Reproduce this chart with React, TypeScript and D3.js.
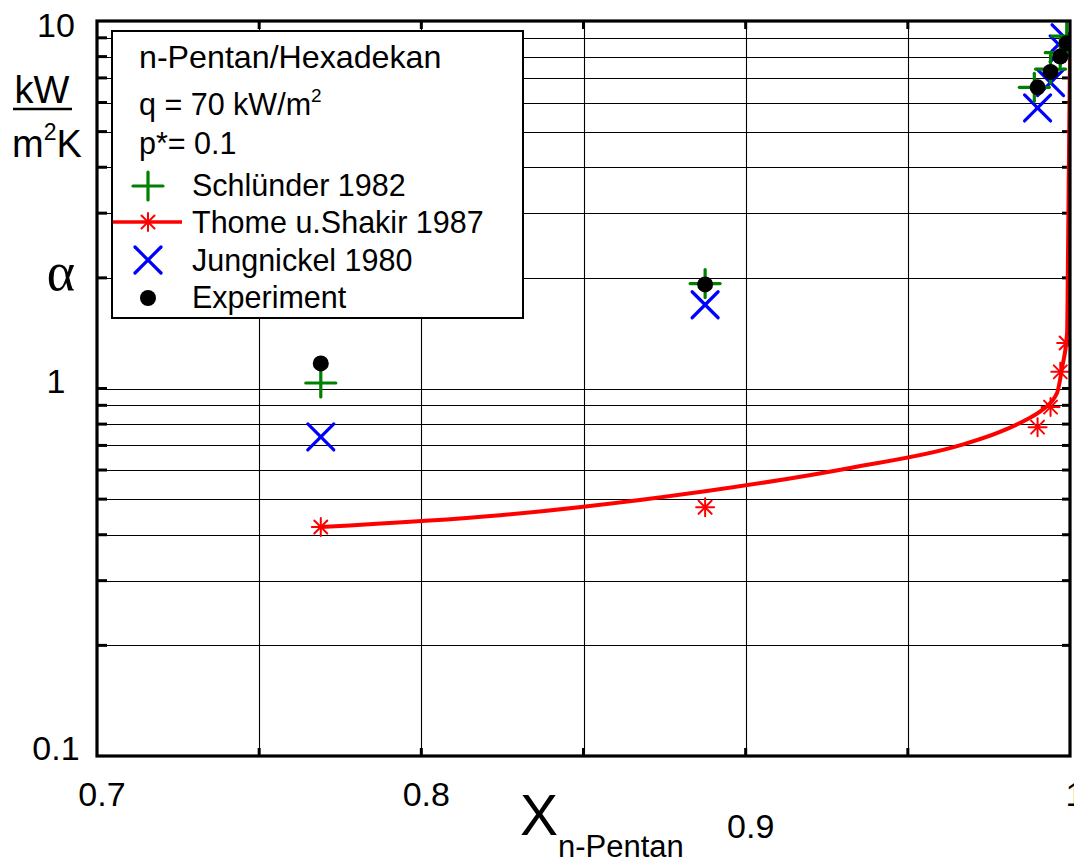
import React from 'react';
import * as d3 from 'd3';

const xTickValues = [0.7, 0.8, 0.9, 1.0];
const xTickLabels = ['0.7', '0.8', '0.9', '1'];
const xGridValues = [0.75, 0.8, 0.85, 0.9, 0.95];
const yTickValues = [0.1, 1, 10];
const yTickLabels = ['0.1', '1', '10'];
const yGridValues = [0.2, 0.3, 0.4, 0.5, 0.6, 0.7, 0.8, 0.9, 1, 2, 3, 4, 5, 6, 7, 8, 9];

const schluender: [number, number][] = [
  [0.769, 1.035], [0.8875, 1.93], [0.989, 6.6], [0.994, 7.4], [0.997, 8.2], [0.999, 9.1],
];
const jungnickel: [number, number][] = [
  [0.769, 0.738], [0.8875, 1.69], [0.99, 5.8], [0.994, 6.8], [0.9979, 8.4], [0.9985, 9.0],
];
const experiment: [number, number][] = [
  [0.769, 1.17], [0.8875, 1.92], [0.99, 6.6], [0.994, 7.27], [0.997, 8.0], [0.999, 8.7],
];
const thomeMarkers: [number, number][] = [
  [0.769, 0.42], [0.8875, 0.475], [0.99, 0.785], [0.994, 0.89], [0.997, 1.11], [0.9988, 1.33],
];
const thomeCurve: [number, number][] = [
  [0.769, 0.42], [0.8243, 0.452], [0.8875, 0.525], [0.9322, 0.608], [0.966, 0.70],
  [0.9784, 0.762], [0.9868, 0.825], [0.9914, 0.874], [0.996, 0.972], [0.9976, 1.144],
  [0.9991, 1.416], [0.9994, 2.38], [0.9997, 4.46], [1.0, 8.1],
];

const legendTitle = 'n-Pentan/Hexadekan';

const L = 97, R = 1070, T = 21, B = 756;
const FONT = 'Liberation Sans, Arial, Helvetica, sans-serif';

export default function App() {
  const x = d3.scaleLinear().domain([0.7, 1.0]).range([L, R]);
  const y = d3.scaleLog().domain([0.1, 10]).range([B, T]);
  const line = d3.line<[number, number]>()
    .x(d => x(d[0]))
    .y(d => y(d[1]))
    .curve(d3.curveMonotoneX);

  const plus = (cx: number, cy: number, k: string) => (
    <g key={k} stroke="#008000" strokeWidth={3.2} strokeLinecap="round">
      <line x1={cx - 15} y1={cy} x2={cx + 15} y2={cy} />
      <line x1={cx} y1={cy - 14} x2={cx} y2={cy + 14} />
    </g>
  );
  const cross = (cx: number, cy: number, k: string) => (
    <g key={k} stroke="#0000ff" strokeWidth={3.2} strokeLinecap="round">
      <line x1={cx - 13} y1={cy - 13} x2={cx + 13} y2={cy + 13} />
      <line x1={cx - 13} y1={cy + 13} x2={cx + 13} y2={cy - 13} />
    </g>
  );
  const star = (cx: number, cy: number, k: string) => (
    <g key={k} stroke="#ff0000" strokeWidth={2} strokeLinecap="round">
      <line x1={cx - 9} y1={cy} x2={cx + 9} y2={cy} />
      <line x1={cx} y1={cy - 9} x2={cx} y2={cy + 9} />
      <line x1={cx - 6.5} y1={cy - 6.5} x2={cx + 6.5} y2={cy + 6.5} />
      <line x1={cx - 6.5} y1={cy + 6.5} x2={cx + 6.5} y2={cy - 6.5} />
    </g>
  );

  const legendItems = [
    { label: 'Schlünder 1982', y: 196 },
    { label: 'Thome u.Shakir 1987', y: 233 },
    { label: 'Jungnickel 1980', y: 271 },
    { label: 'Experiment', y: 308 },
  ];

  return (
    <svg width={1074} height={861} style={{ position: 'absolute', left: 0, top: 0, background: '#fff' }}
      fontFamily={FONT}>
      <defs>
        <clipPath id="plotclip">
          <rect x={L} y={T} width={R - L} height={B - T} />
        </clipPath>
      </defs>
      <rect x={0} y={0} width={1074} height={861} fill="#fff" />
      {/* grid */}
      <g stroke="#000" strokeWidth={1.1}>
        {yGridValues.map(v => (
          <line key={'hg' + v} x1={L} x2={R} y1={Math.round(y(v)) + 0.5} y2={Math.round(y(v)) + 0.5} />
        ))}
        {xGridValues.map(v => (
          <line key={'vg' + v} x1={Math.round(x(v)) + 0.5} x2={Math.round(x(v)) + 0.5} y1={T} y2={B} />
        ))}
      </g>
      {/* ticks */}
      <g stroke="#000" strokeWidth={3}>
        {yGridValues.map(v => (
          <g key={'yt' + v}>
            <line x1={L} x2={L + 10} y1={y(v)} y2={y(v)} />
            <line x1={R - 8} x2={R} y1={y(v)} y2={y(v)} />
          </g>
        ))}
        {xGridValues.map(v => (
          <g key={'xt' + v}>
            <line x1={x(v)} x2={x(v)} y1={B} y2={B - 8} />
            <line x1={x(v)} x2={x(v)} y1={T} y2={T + 8} />
          </g>
        ))}
      </g>
      {/* legend */}
      <rect x={112} y={31} width={411} height={287} fill="#fff" stroke="#000" strokeWidth={2} />
      <text x={139} y={68} fontSize={32.2}>{legendTitle}</text>
      <text x={139} y={115} fontSize={30.5}>q = 70 kW/m<tspan fontSize={19} dy={-13}>2</tspan></text>
      <text x={139} y={154} fontSize={30.5}>p*= 0.1</text>
      {plus(148, 186, 'lg1')}
      <line x1={113} x2={182} y1={222} y2={222} stroke="#ff0000" strokeWidth={3.5} />
      {star(148, 222, 'lg2')}
      {cross(148, 260, 'lg3')}
      <circle cx={148} cy={298} r={8} fill="#000" />
      {legendItems.map(it => (
        <text key={it.label} x={192} y={it.y} fontSize={30.5}>{it.label}</text>
      ))}
      {/* data */}
      <g clipPath="url(#plotclip)">
        <path d={line(thomeCurve) || ''} fill="none" stroke="#ff0000" strokeWidth={4} />
        {thomeMarkers.map((d, i) => star(x(d[0]), y(d[1]), 'th' + i))}
        {jungnickel.map((d, i) => cross(x(d[0]), y(d[1]), 'ju' + i))}
        {schluender.map((d, i) => plus(x(d[0]), y(d[1]), 'sc' + i))}
        {experiment.map((d, i) => (
          <circle key={'ex' + i} cx={x(d[0])} cy={y(d[1])} r={8} fill="#000" />
        ))}
      </g>
      {/* frame */}
      <rect x={L} y={T} width={R - L} height={B - T} fill="none" stroke="#000" strokeWidth={3.2} />
      {/* y tick labels */}
      {yTickValues.map((v, i) => (
        <text key={'yl' + v} x={56} y={Math.max(y(v) + 4, 37)} fontSize={34} textAnchor="middle">
          {yTickLabels[i]}
        </text>
      ))}
      {/* x tick labels */}
      {xTickValues.map((v, i) => (
        <text key={'xl' + v} x={x(v) + 5} y={i === 2 ? 838 : 806} fontSize={34} textAnchor="middle">
          {xTickLabels[i]}
        </text>
      ))}
      {/* y axis unit */}
      <text x={42} y={103} fontSize={38} textAnchor="middle">kW</text>
      <line x1={13} x2={72} y1={109} y2={109} stroke="#000" strokeWidth={2.5} />
      <text x={12} y={157} fontSize={38}>m<tspan fontSize={23} dy={-17}>2</tspan><tspan dy={17}>K</tspan></text>
      <text x={61} y={290} fontSize={54} textAnchor="middle" fontFamily="Liberation Serif, Times New Roman, serif">α</text>
      {/* x axis label */}
      <text x={520} y={835} fontSize={57}>X<tspan fontSize={31} dy={22}>n-Pentan</tspan></text>
    </svg>
  );
}
